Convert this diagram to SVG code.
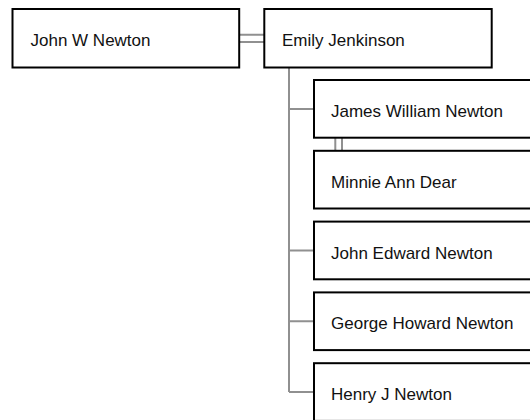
<svg xmlns="http://www.w3.org/2000/svg" width="530" height="420" viewBox="0 0 530 420">
<style>
.box{fill:#fff;stroke:#000;stroke-width:2}
.lbl{font-family:"Liberation Sans",Arial,sans-serif;font-size:17px;fill:#111}
.con{fill:none;stroke:#909090;stroke-width:2}
</style>
<rect width="530" height="420" fill="#fff"/>
<g id="connectors">
<path class="con" d="M239,34.7H264M239,42H264"/>
<path class="con" d="M289,67.5V392M289,109H314M289,250.5H314M289,321.3H314M289,392H314"/>
<path class="con" d="M335.3,137.7V150.8M342,137.7V150.8"/>
</g>
<g id="john-w-newton">
<rect class="box" x="12.5" y="9" width="226.7" height="58.5"/>
<text class="lbl" x="30.5" y="45.8">John W Newton</text>
</g>
<g id="emily-jenkinson">
<rect class="box" x="264.3" y="9" width="227.4" height="58.5"/>
<text class="lbl" x="282" y="45.8">Emily Jenkinson</text>
</g>
<g id="james-william-newton">
<rect class="box" x="314" y="80" width="240" height="57.7"/>
<text class="lbl" x="331" y="116.9">James William Newton</text>
</g>
<g id="minnie-ann-dear">
<rect class="box" x="314" y="150.8" width="240" height="57.7"/>
<text class="lbl" x="331" y="187.7">Minnie Ann Dear</text>
</g>
<g id="john-edward-newton">
<rect class="box" x="314" y="221.6" width="240" height="57.7"/>
<text class="lbl" x="331" y="258.5">John Edward Newton</text>
</g>
<g id="george-howard-newton">
<rect class="box" x="314" y="292.4" width="240" height="57.7"/>
<text class="lbl" x="331" y="329.3">George Howard Newton</text>
</g>
<g id="henry-j-newton">
<rect class="box" x="314" y="363.2" width="240" height="57.7"/>
<text class="lbl" x="331" y="400">Henry J Newton</text>
</g>
</svg>
